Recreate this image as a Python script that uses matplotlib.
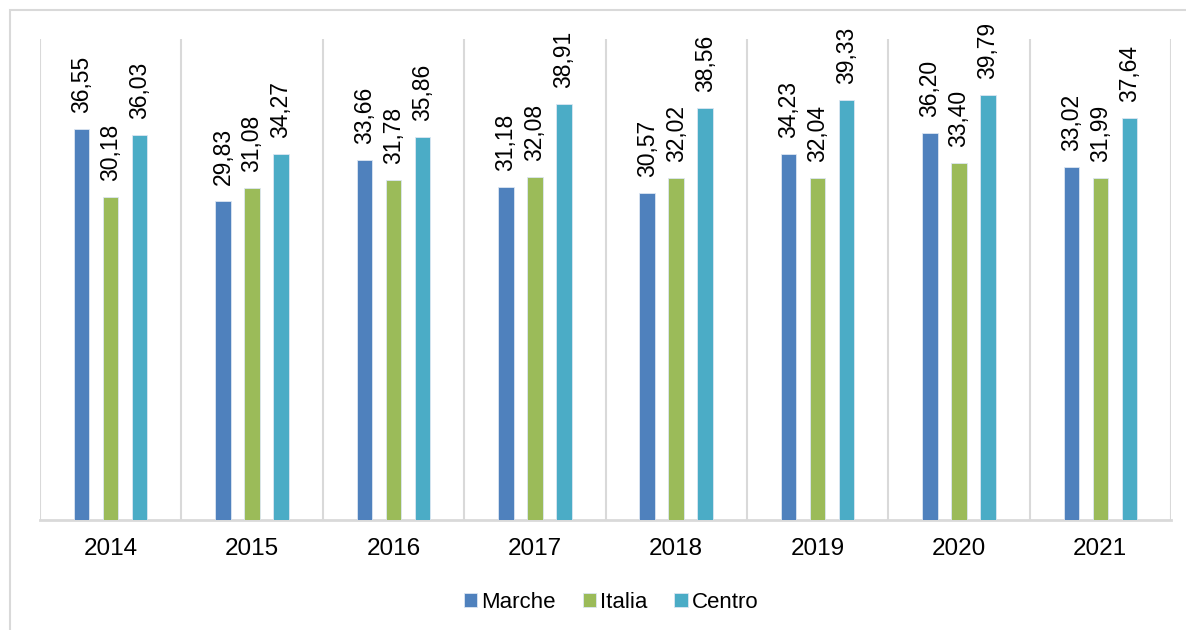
import numpy as np
import matplotlib
matplotlib.use("Agg")
import matplotlib.pyplot as plt
from matplotlib.patches import Rectangle

plt.rcParams['font.family'] = ['Liberation Sans', 'DejaVu Sans']

years = ["2014", "2015", "2016", "2017", "2018", "2019", "2020", "2021"]
marche = [36.55, 29.83, 33.66, 31.18, 30.57, 34.23, 36.20, 33.02]
italia = [30.18, 31.08, 31.78, 32.08, 32.02, 32.04, 33.40, 31.99]
centro = [36.03, 34.27, 35.86, 38.91, 38.56, 39.33, 39.79, 37.64]

series = [("Marche", marche, "#4F81BD"),
          ("Italia", italia, "#9BBB59"),
          ("Centro", centro, "#4BACC6")]

fig = plt.figure(figsize=(11.86, 6.30), dpi=100)
ax = fig.add_axes([40/1186, 1-520/630, 1131/1186, 481/630])

# outer chart frame (cut off at right/bottom in the reference)
fig.patches.append(Rectangle((10/1186, -0.1), 1.2, 1-10/630+0.1, transform=fig.transFigure,
                             fill=False, edgecolor="#d9d9d9", linewidth=1.5))

x = np.arange(len(years))
step = 0.205
width = 0.11
for i, (name, vals, col) in enumerate(series):
    pos = x + (i-1)*step
    ax.bar(pos, vals, width, color=col, edgecolor="#dce6f2", linewidth=0.6, label=name, zorder=3)
    for p, v in zip(pos, vals):
        ax.annotate(("%.2f" % v).replace(".", ","), (p, v), xytext=(0, 11.5),
                    textcoords="offset points", rotation=90, ha="center", va="bottom",
                    fontsize=16.5, color="black")

ax.set_xlim(-0.5, len(years)-0.5)
ax.set_ylim(0, 45)
for b in np.arange(-0.5, len(years), 1.0):
    ax.axvline(b, color="#d9d9d9", linewidth=1.5, zorder=1)

for s in ["top", "left", "right"]:
    ax.spines[s].set_visible(False)
ax.spines["bottom"].set_color("#d9d9d9")
ax.spines["bottom"].set_linewidth(2)
ax.set_yticks([])
ax.set_xticks(x)
ax.set_xticklabels(years, fontsize=17.5)
ax.tick_params(axis="x", length=0, pad=13)

ax.legend(loc="center", bbox_to_anchor=(0.505, -0.172), ncol=3, frameon=False, fontsize=16,
          handlelength=0.6, handleheight=0.6, handletextpad=0.2, columnspacing=1.2)

fig.savefig("out.png", dpi=100)
